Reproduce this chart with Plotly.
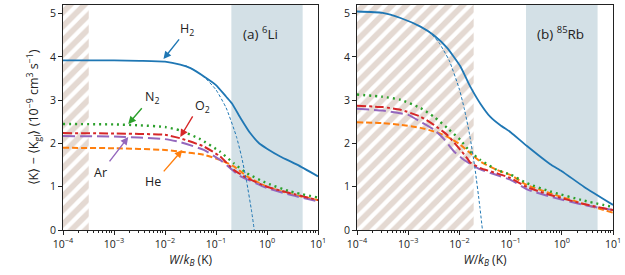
import numpy as np
import plotly.graph_objects as go

# ---------------- data (log10 W, value) ----------------
# Panel (a) 6Li
li_h2_logw = [-4, -3, -2.5, -2, -1.7, -1.5, -1.2, -1.0, -0.8, -0.69, -0.52, -0.33, -0.15, 0, 0.26, 0.59, 1.0]
li_h2_val = [3.92, 3.92, 3.91, 3.89, 3.82, 3.74, 3.52, 3.35, 3.08, 2.93, 2.59, 2.24, 2.0, 1.88, 1.7, 1.51, 1.24]
li_fit_logw = [-1.6, -1.4, -1.2, -1.0, -0.8, -0.6, -0.5, -0.4, -0.3, -0.25]
li_fit_val = [3.80, 3.68, 3.50, 3.24, 2.82, 2.16, 1.7, 1.12, 0.42, 0.0]
li_n2_logw = [-4, -3, -2.5, -2, -1.7, -1.31, -0.92, -0.65, -0.39, 0, 0.46, 1]
li_n2_val = [2.45, 2.44, 2.42, 2.38, 2.3, 2.1, 1.81, 1.54, 1.31, 1.08, 0.89, 0.75]
li_o2_logw = [-4, -3, -2, -1.7, -1.24, -0.92, -0.65, -0.39, 0, 0.46, 1]
li_o2_val = [2.24, 2.23, 2.2, 2.12, 1.93, 1.7, 1.39, 1.2, 1.0, 0.85, 0.69]
li_ar_logw = [-4, -3, -2, -1.7, -1.24, -0.92, -0.72, -0.56, 0, 0.5, 1]
li_ar_val = [2.17, 2.16, 2.1, 2.03, 1.85, 1.62, 1.43, 1.27, 0.97, 0.8, 0.66]
li_he_logw = [-4, -3, -2, -1.7, -1.24, -0.92, -0.65, -0.39, 0, 0.5, 1]
li_he_val = [1.9, 1.89, 1.85, 1.81, 1.74, 1.62, 1.47, 1.24, 1.0, 0.82, 0.69]

# Panel (b) 85Rb
rb_h2_logw = [-4, -3.5, -3.15, -2.76, -2.5, -2.24, -1.98, -1.79, -1.59, -1.4, -1.2, -1.0, -0.68, -0.225, 0, 0.43, 1.0]
rb_h2_val = [5.05, 5.02, 4.9, 4.7, 4.5, 4.21, 3.78, 3.32, 2.92, 2.62, 2.42, 2.26, 1.94, 1.52, 1.36, 1.0, 0.58]
rb_fit_logw = [-2.6, -2.4, -2.2, -2.0, -1.9, -1.8, -1.7, -1.6, -1.55]
rb_fit_val = [4.6, 4.33, 3.92, 3.25, 2.78, 2.2, 1.46, 0.53, 0.0]
rb_n2_logw = [-4, -3.5, -3.15, -2.76, -2.5, -2.24, -1.98, -1.79, -1.59, -1.27, -1.0, -0.68, -0.225, 0.43, 1]
rb_n2_val = [3.13, 3.08, 3.01, 2.82, 2.62, 2.36, 2.08, 1.81, 1.62, 1.39, 1.28, 1.08, 0.89, 0.68, 0.53]
rb_o2_logw = [-4, -3.5, -3.15, -2.76, -2.5, -2.24, -1.98, -1.85, -1.79, -1.59, -1.27, -1.0, -0.68, -0.225, 0.43, 1]
rb_o2_val = [2.87, 2.84, 2.78, 2.62, 2.43, 2.2, 1.85, 1.66, 1.56, 1.43, 1.31, 1.2, 0.99, 0.81, 0.6, 0.46]
rb_ar_logw = [-4, -3.5, -3, -2.76, -2.5, -2.3, -2.1, -1.92, -1.76, -1.59, -1.27, -1.0, -0.68, -0.225, 0.43, 1]
rb_ar_val = [2.8, 2.76, 2.66, 2.5, 2.32, 2.1, 1.81, 1.63, 1.51, 1.4, 1.27, 1.16, 0.94, 0.77, 0.58, 0.46]
rb_he_logw = [-4, -3.5, -3.15, -2.76, -2.5, -2.24, -1.98, -1.79, -1.59, -1.27, -1.0, -0.68, -0.225, 0.43, 1]
rb_he_val = [2.49, 2.47, 2.43, 2.36, 2.28, 2.16, 1.97, 1.78, 1.58, 1.39, 1.27, 1.04, 0.85, 0.6, 0.4]

# shaded regions (W in K)
li_hatch = [1e-4, 3.2e-4]
rb_hatch = [1e-4, 0.019]
blue_band = [0.2, 5.0]

x_ticks = [1e-4, 1e-3, 1e-2, 1e-1, 1e0, 1e1]
x_ticklabels = ["10<sup>−4</sup>", "10<sup>−3</sup>", "10<sup>−2</sup>", "10<sup>−1</sup>", "10<sup>0</sup>", "10<sup>1</sup>"]
y_ticks = [0, 1, 2, 3, 4, 5]

YMAX = 5.2
BLUE = "#1f77b4"; ORANGE = "#ff7f0e"; GREEN = "#2ca02c"; RED = "#d62728"; PURPLE = "#9467bd"
FONT = "Open Sans"

fig = go.Figure()


def w(lw):
    return 10 ** np.array(lw, dtype=float)


def add_panel(xa, ya, hatch, h2, fit, n2, o2, ar, he):
    # hatched region
    fig.add_trace(go.Scatter(
        x=[hatch[0], hatch[1], hatch[1], hatch[0], hatch[0]],
        y=[0, 0, YMAX, YMAX, 0], mode="lines", line=dict(width=0),
        fill="toself", fillcolor="#e4d9d2",
        fillpattern=dict(shape="/", bgcolor="#e4d9d2", fgcolor="white", size=10, solidity=0.42,
                         fillmode="replace"),
        xaxis=xa, yaxis=ya, hoverinfo="skip", showlegend=False))
    # blue band
    fig.add_trace(go.Scatter(
        x=[blue_band[0], blue_band[1], blue_band[1], blue_band[0], blue_band[0]],
        y=[0, 0, YMAX, YMAX, 0], mode="lines", line=dict(width=0),
        fill="toself", fillcolor="#d3e0e6",
        xaxis=xa, yaxis=ya, hoverinfo="skip", showlegend=False))
    specs = [
        (he, ORANGE, "6px,3px", 2.0),
        (ar, PURPLE, "12px,5px", 2.0),
        (o2, RED, "dashdot", 2.0),
        (n2, GREEN, "2px,4px", 2.4),
        (fit, BLUE, "3px,2px", 1.0),
        (h2, BLUE, "solid", 1.8),
    ]
    for (lw, val), col, dash, width in specs:
        fig.add_trace(go.Scatter(
            x=w(lw), y=val, mode="lines",
            line=dict(color=col, dash=dash, width=width, shape="spline", smoothing=0.5),
            xaxis=xa, yaxis=ya, showlegend=False, cliponaxis=True))


add_panel("x", "y", li_hatch, (li_h2_logw, li_h2_val), (li_fit_logw, li_fit_val),
          (li_n2_logw, li_n2_val), (li_o2_logw, li_o2_val), (li_ar_logw, li_ar_val), (li_he_logw, li_he_val))
add_panel("x2", "y2", rb_hatch, (rb_h2_logw, rb_h2_val), (rb_fit_logw, rb_fit_val),
          (rb_n2_logw, rb_n2_val), (rb_o2_logw, rb_o2_val), (rb_ar_logw, rb_ar_val), (rb_he_logw, rb_he_val))

minor_vals = [k * 10.0 ** n for n in range(-4, 1) for k in range(2, 10)]

xaxis_common = dict(
    type="log", range=[-4, 1], tickvals=x_ticks, ticktext=x_ticklabels, automargin=False,
    ticks="outside", ticklen=4, tickwidth=1, tickcolor="#222",
    minor=dict(tickvals=minor_vals, ticks="outside", ticklen=2, tickcolor="#222", showgrid=False),
    showline=True, linecolor="#222", linewidth=1, mirror=True, showgrid=False, zeroline=False,
    tickfont=dict(size=10.5, family=FONT, color="#222"),
    title=dict(text="<i>W</i>/<i>k</i><sub><i>B</i></sub> (K)", font=dict(size=12, family=FONT, color="#222"), standoff=4),
)
yaxis_common = dict(
    range=[0, YMAX], tickvals=y_ticks, ticks="outside", ticklen=4, tickwidth=1, tickcolor="#222",
    showline=True, linecolor="#222", linewidth=1, mirror=True, showgrid=False, zeroline=False,
    automargin=False, tickfont=dict(size=10.5, family=FONT, color="#222"),
)

L, R, T, B = 63, 12, 5, 45
pw = 625 - L - R
d1 = (318 - L) / pw
d2 = (357 - L) / pw

fig.update_layout(
    width=625, height=275, margin=dict(l=L, r=R, t=T, b=B, autoexpand=False),
    plot_bgcolor="white", paper_bgcolor="white",
    font=dict(family=FONT, size=10, color="#222"),
    xaxis=dict(domain=[0, d1], **xaxis_common),
    xaxis2=dict(domain=[d2, 1], anchor="y2", **xaxis_common),
    yaxis=dict(domain=[0, 1], anchor="x",
               title=dict(text="⟨K⟩ − ⟨K<sub>gl</sub>⟩ (10<sup>−9</sup> cm<sup>3</sup> s<sup>−1</sup>)",
                          font=dict(size=12.5, family=FONT, color="#222"), standoff=8),
               **yaxis_common),
    yaxis2=dict(domain=[0, 1], anchor="x2", **yaxis_common),
)

# annotations: (text, text_pos, tail, head, colour) in (log10 W, value)
labels = [
    ("H<sub>2</sub>", (-1.56, 4.63), (-1.70, 4.44), (-2.03, 3.95), BLUE),
    ("N<sub>2</sub>", (-2.25, 3.06), (-2.43, 2.85), (-2.72, 2.45), GREEN),
    ("O<sub>2</sub>", (-1.27, 2.85), (-1.44, 2.66), (-1.70, 2.15), RED),
    ("Ar", (-3.27, 1.32), (-3.11, 1.55), (-2.72, 2.15), PURPLE),
    ("He", (-2.23, 1.11), (-2.05, 1.32), (-1.66, 1.85), ORANGE),
]
for txt, tp, tail, head, col in labels:
    fig.add_annotation(x=tp[0], y=tp[1], xref="x", yref="y", text=txt, showarrow=False,
                       font=dict(size=12.5, family=FONT, color="#222"))
    fig.add_annotation(x=head[0], y=head[1], ax=tail[0], ay=tail[1], xref="x", yref="y",
                       axref="x", ayref="y", text="", showarrow=True, arrowhead=2,
                       arrowsize=1.1, arrowwidth=1.4, arrowcolor=col)

fig.add_annotation(x=-0.13, y=4.56, xref="x", yref="y", text="(a) <sup>6</sup>Li", showarrow=False,
                   font=dict(size=13.5, family=FONT, color="#222"))
fig.add_annotation(x=-0.03, y=4.56, xref="x2", yref="y2", text="(b) <sup>85</sup>Rb", showarrow=False,
                   font=dict(size=13.5, family=FONT, color="#222"))

fig.write_html("out.html", config={"displayModeBar": False},
               post_script="document.body.style.margin='0';")
